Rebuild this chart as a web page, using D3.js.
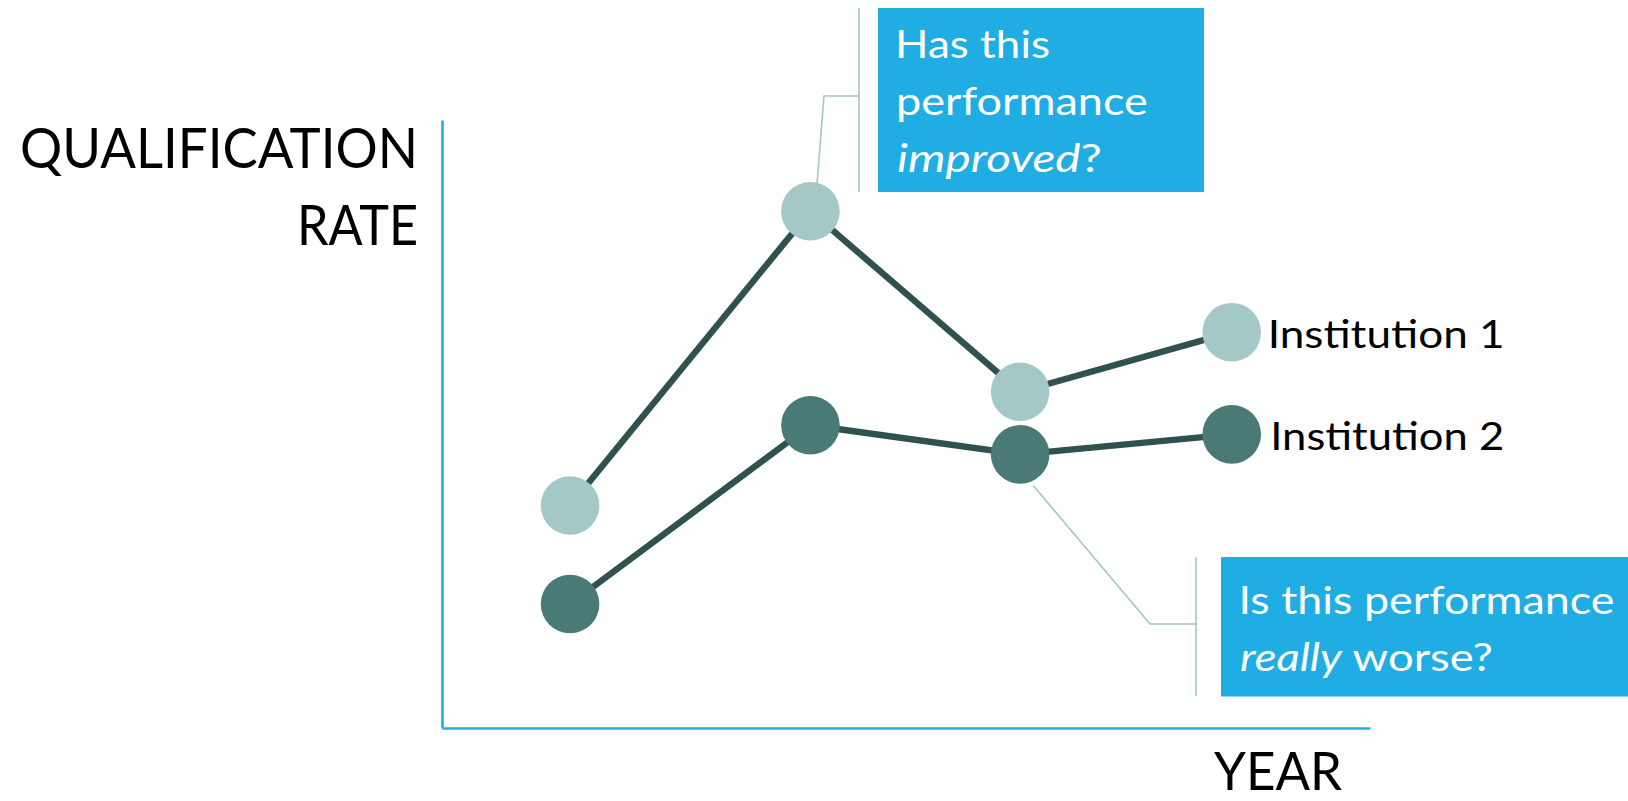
<!DOCTYPE html>
<html>
<head>
<meta charset="utf-8">
<script src="https://cdn.jsdelivr.net/npm/d3@7"></script>
<style>
  html, body { margin: 0; padding: 0; background: #ffffff; }
  svg { display: block; }
  text { font-family: Lato, "Noto Sans", sans-serif; }
</style>
</head>
<body>
<svg id="chart" width="1628" height="801"></svg>
<script>
// ---- data ----
const periods = ["Year 1", "Year 2", "Year 3", "Year 4"];
const periodPositions = [13.8, 39.7, 62.3, 85.1];      // where each observation falls along the year axis (0–100)
const institution1 = [36.6, 85.0, 55.3, 65.1];          // qualification rate, Institution 1
const institution2 = [20.4, 49.8, 45.0, 48.3];          // qualification rate, Institution 2
const seriesNames = ["Institution 1", "Institution 2"];
const yAxisTitle = ["QUALIFICATION", "RATE"];
const xAxisTitle = "YEAR";
const questionImproved = [[{ t: "Has this" }], [{ t: "performance" }], [{ t: "improved", i: true }, { t: "?" }]];
const questionWorse = [[{ t: "Is this performance" }], [{ t: "really", i: true }, { t: " worse?" }]];

// ---- styles ----
const C = {
  axis: "#1fade3",
  box: "#1fade3",
  line: "#30524f",
  light: "#a3c8c5",
  dark: "#4a7a75",
  leader: "#a3c8c5",
  text: "#000000"
};

const svg = d3.select("#chart");

const x = d3.scaleLinear().domain([0, 100]).range([442, 1370]);
const y = d3.scaleLinear().domain([0, 100]).range([728, 120]);

// Fit a text line to a given width by stretching horizontally around its anchor.
function fitText(sel, ax, ay, width) {
  const w = sel.node().getComputedTextLength();
  const sx = width / w;
  sel.attr("transform", `translate(${ax},${ay}) scale(${sx},1) translate(${-ax},${-ay})`);
}

function addLine(g, parts, opt) {
  const t = g.append("text")
    .attr("x", opt.x).attr("y", opt.y)
    .attr("font-size", opt.size)
    .attr("fill", opt.fill || C.text)
    .attr("text-anchor", opt.anchor || "start")
    .style("white-space", "pre");
  parts.forEach(p => {
    t.append("tspan").text(p.t).attr("font-style", p.i ? "italic" : "normal");
  });
  if (opt.width) fitText(t, opt.x, opt.y, opt.width);
  return t;
}

// ---- axes (lines only, no ticks) ----
const yAxis = d3.axisLeft(y).tickValues([]).tickSizeOuter(0);
const xAxis = d3.axisBottom(x).tickValues([]).tickSizeOuter(0);
svg.append("g").attr("transform", `translate(${x(0)},0)`).call(yAxis)
  .call(g => g.select(".domain").attr("stroke", C.axis).attr("stroke-width", 2.6));
svg.append("g").attr("transform", `translate(0,${y(0)})`).call(xAxis)
  .call(g => g.select(".domain").attr("stroke", C.axis).attr("stroke-width", 2.6));

// ---- axis titles ----
const titles = svg.append("g");
addLine(titles, [{ t: yAxisTitle[0] }], { x: 418, y: 168.3, size: 55.8, anchor: "end", width: 398 });
addLine(titles, [{ t: yAxisTitle[1] }], { x: 418, y: 245, size: 55.8, anchor: "end", width: 121 });
addLine(titles, [{ t: xAxisTitle }], { x: 1214, y: 790, size: 51.6, width: 128 });

// ---- callout leaders and brackets ----
const leaders = svg.append("g").attr("fill", "none").attr("stroke", C.leader).attr("stroke-width", 1.6);
{
  const px = x(periodPositions[1]), py = y(institution1[1]);
  leaders.append("path").attr("d", d3.line()([[px + 6, py - 20], [824, 96], [859, 96]]));
  leaders.append("line").attr("x1", 859).attr("x2", 859).attr("y1", 8).attr("y2", 192);
}
{
  const px = x(periodPositions[2]), py = y(institution2[2]);
  leaders.append("path").attr("d", d3.line()([[px + 13, py + 31], [1150, 624], [1196, 624]]));
  leaders.append("line").attr("x1", 1196).attr("x2", 1196).attr("y1", 557).attr("y2", 696);
}

// ---- series lines ----
const series = [
  { name: seriesNames[0], values: institution1, fill: C.light },
  { name: seriesNames[1], values: institution2, fill: C.dark }
];
const lineGen = d3.line().x((d, i) => x(periodPositions[i])).y(d => y(d));
svg.append("g").selectAll("path").data(series).join("path")
  .attr("d", s => lineGen(s.values))
  .attr("fill", "none").attr("stroke", C.line).attr("stroke-width", 6.4)
  .attr("stroke-linejoin", "round");

// ---- points ----
series.forEach(s => {
  svg.append("g").selectAll("circle").data(s.values).join("circle")
    .attr("cx", (d, i) => x(periodPositions[i]))
    .attr("cy", d => y(d))
    .attr("r", 29.3)
    .attr("fill", s.fill);
});

// ---- series labels ----
const lab = svg.append("g");
addLine(lab, [{ t: series[0].name }], { x: x(periodPositions[3]) + 36, y: y(institution1[3]) + 16.3, size: 39.5, width: 237 });
addLine(lab, [{ t: series[1].name }], { x: x(periodPositions[3]) + 38.5, y: y(institution2[3]) + 15.2, size: 39.5, width: 234 });

// ---- callout boxes ----
const box1 = svg.append("g");
box1.append("rect").attr("x", 878).attr("y", 8).attr("width", 326).attr("height", 184).attr("fill", C.box);
addLine(box1, questionImproved[0], { x: 895, y: 58.3, size: 39.5, fill: "#fff", width: 155 });
addLine(box1, questionImproved[1], { x: 896, y: 115, size: 39.5, fill: "#fff", width: 252 });
addLine(box1, questionImproved[2], { x: 897, y: 172, size: 39.5, fill: "#fff", width: 205 });

const box2 = svg.append("g");
box2.append("rect").attr("x", 1221).attr("y", 557).attr("width", 407).attr("height", 139.5).attr("fill", C.box);
addLine(box2, questionWorse[0], { x: 1238.5, y: 614, size: 39.5, fill: "#fff", width: 376 });
addLine(box2, questionWorse[1], { x: 1240, y: 671, size: 39.5, fill: "#fff", width: 253 });
</script>
</body>
</html>
